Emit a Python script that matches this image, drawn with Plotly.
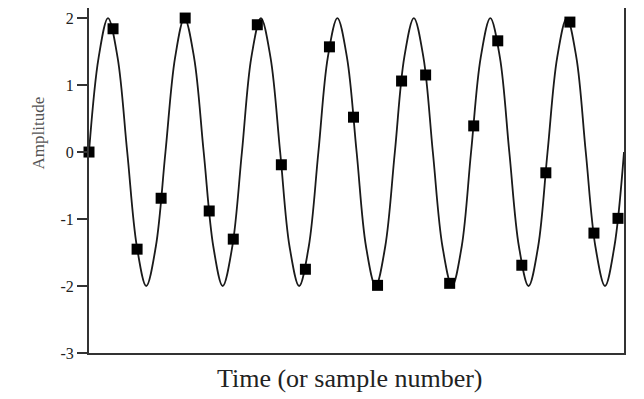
import plotly.graph_objects as go

# Continuous waveform: key points (time in sample units, amplitude)
curve_t = [0.00, 0.40, 0.79, 1.19, 1.59, 1.99, 2.38, 2.78, 3.18, 3.58, 3.97, 4.37, 4.77, 5.17,
           5.56, 5.96, 6.36, 6.75, 7.15, 7.55, 7.95, 8.34, 8.74, 9.14, 9.54, 9.93, 10.33, 10.73,
           11.13, 11.52, 11.92, 12.32, 12.72, 13.11, 13.51, 13.91, 14.30, 14.70, 15.10, 15.50,
           15.89, 16.29, 16.69, 17.09, 17.48, 17.88, 18.28, 18.68, 19.07, 19.47, 19.87, 20.27,
           20.66, 21.06, 21.46, 21.85, 22.25]
curve_y = [0, 1.41, 2, 1.41, 0, -1.41, -2, -1.41,
           0, 1.41, 2, 1.41, 0, -1.41, -2, -1.41,
           0, 1.41, 2, 1.41, 0, -1.41, -2, -1.41,
           0, 1.41, 2, 1.41, 0, -1.41, -2, -1.41,
           0, 1.41, 2, 1.41, 0, -1.41, -2, -1.41,
           0, 1.41, 2, 1.41, 0, -1.41, -2, -1.41,
           0, 1.41, 2, 1.41, 0, -1.41, -2, -1.41,
           0]

# Samples (sample number, amplitude)
sample_n = list(range(23))
sample_y = [0.0, 1.84, -1.45, -0.69, 2.0, -0.88, -1.30, 1.90, -0.19, -1.75, 1.57, 0.52,
            -1.99, 1.06, 1.15, -1.96, 0.39, 1.66, -1.69, -0.31, 1.94, -1.21, -0.99]

y_ticks = [-3, -2, -1, 0, 1, 2]
y_tick_labels = ["-3", "-2", "-1", "0", "1", "2"]
x_title = "Time (or sample number)"
y_title = "Amplitude"

fig = go.Figure()
fig.add_trace(go.Scatter(
    x=curve_t, y=curve_y, mode="lines",
    line=dict(color="#1a1a1a", width=1.8, shape="spline", smoothing=1.0),
    hoverinfo="skip", showlegend=False,
))
fig.add_trace(go.Scatter(
    x=sample_n, y=sample_y, mode="markers",
    marker=dict(symbol="square", size=11, color="black"),
    cliponaxis=False, showlegend=False,
))

fig.update_layout(
    width=644, height=399,
    margin=dict(l=89, r=20, t=8, b=46),
    paper_bgcolor="white", plot_bgcolor="white",
    font=dict(family="Liberation Serif", color="#222222", size=16),
    xaxis=dict(range=[0, 22.25], showgrid=False, zeroline=False, showticklabels=False,
               ticks="", showline=True, linecolor="#333333", linewidth=2, mirror=False),
    yaxis=dict(range=[-3, 2.15], showgrid=False, zeroline=False,
               tickmode="array", tickvals=y_ticks, ticktext=y_tick_labels,
               ticks="outside", ticklen=10, tickwidth=1.5, tickcolor="#333333",
               showline=True, linecolor="#333333", linewidth=2, mirror=True,
               tickfont=dict(size=16, color="#222222", family="Liberation Serif")),
    annotations=[
        dict(text=y_title, xref="paper", yref="y", x=-0.095, y=0.28, textangle=-90,
             showarrow=False, xanchor="center", yanchor="middle",
             font=dict(size=17, color="#555555", family="Liberation Serif")),
        dict(text=x_title, xref="paper", yref="paper", x=0.488, y=-0.075,
             showarrow=False, xanchor="center", yanchor="middle",
             font=dict(size=26, color="#222222", family="Liberation Serif")),
    ],
)

fig.write_html("out.html")
